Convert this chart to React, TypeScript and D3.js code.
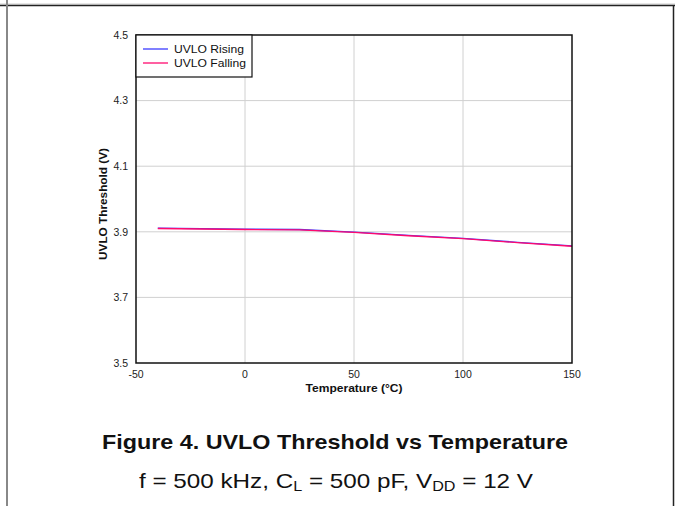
import { line as d3Line, scaleLinear } from 'd3'

const WIDTH = 675
const HEIGHT = 506
const PLOT = { left: 136, right: 572, top: 35, bottom: 363 }
const FONT = 'Liberation Sans, Arial, sans-serif'

const temps = [-40, 0, 25, 50, 75, 100, 125, 150]
const risingV = [3.911, 3.908, 3.907, 3.899, 3.889, 3.880, 3.868, 3.857]
const fallingV = [3.910, 3.907, 3.906, 3.898, 3.888, 3.879, 3.867, 3.856]

const xTicks = [-50, 0, 50, 100, 150]
const yTicks = [3.5, 3.7, 3.9, 4.1, 4.3, 4.5]

const series = [
  { name: 'UVLO Rising', color: '#3b3bff', values: risingV, width: 70 },
  { name: 'UVLO Falling', color: '#ff0a6e', values: fallingV, width: 72 },
]

export default function App() {
  const x = scaleLinear().domain([-50, 150]).range([PLOT.left, PLOT.right])
  const y = scaleLinear().domain([3.5, 4.5]).range([PLOT.bottom, PLOT.top])

  const path = (vals: number[]) =>
    d3Line<number>()
      .x((_, i) => x(temps[i]))
      .y((d) => y(d))(vals) ?? undefined

  return (
    <svg
      width={WIDTH}
      height={HEIGHT}
      viewBox={`0 0 ${WIDTH} ${HEIGHT}`}
      style={{ position: 'absolute', left: 0, top: 0, display: 'block', background: '#fff', fontFamily: FONT }}
    >
      {/* page frame */}
      <line x1={0} x2={WIDTH} y1={4} y2={4} stroke="#ccc" strokeWidth={1} />
      <line x1={0} x2={WIDTH} y1={5.5} y2={5.5} stroke="#222" strokeWidth={1.5} />
      <line x1={7} x2={7} y1={0} y2={HEIGHT} stroke="#888" strokeWidth={2} />
      <line x1={673.5} x2={673.5} y1={5} y2={HEIGHT} stroke="#222" strokeWidth={1.5} />

      {/* grid */}
      {xTicks.slice(1, -1).map((t) => (
        <line key={`gx${t}`} x1={x(t)} x2={x(t)} y1={PLOT.top} y2={PLOT.bottom} stroke="#d0d0d0" strokeWidth={1} />
      ))}
      {yTicks.slice(1, -1).map((t) => (
        <line key={`gy${t}`} x1={PLOT.left} x2={PLOT.right} y1={y(t)} y2={y(t)} stroke="#d0d0d0" strokeWidth={1} />
      ))}

      {series.map((s) => (
        <path key={s.name} d={path(s.values)} fill="none" stroke={s.color} strokeWidth={1.3} />
      ))}

      <rect
        x={PLOT.left}
        y={PLOT.top}
        width={PLOT.right - PLOT.left}
        height={PLOT.bottom - PLOT.top}
        fill="none"
        stroke="#111"
        strokeWidth={1.5}
      />

      {/* ticks */}
      {xTicks.map((t) => (
        <text key={`tx${t}`} x={x(t)} y={378} fontSize={10.5} textAnchor="middle" fill="#222">
          {t}
        </text>
      ))}
      {yTicks.map((t) => (
        <text key={`ty${t}`} x={128} y={y(t) + 3.8} fontSize={10.5} textAnchor="end" fill="#222">
          {t.toFixed(1)}
        </text>
      ))}

      <text
        x={305.5}
        y={392}
        fontSize={11}
        fontWeight="bold"
        fill="#111"
        textLength={97}
        lengthAdjust="spacingAndGlyphs"
      >
        Temperature (°C)
      </text>
      <text
        transform={`translate(107, 260) rotate(-90)`}
        fontSize={11}
        fontWeight="bold"
        fill="#111"
        textLength={112}
        lengthAdjust="spacingAndGlyphs"
      >
        UVLO Threshold (V)
      </text>

      {/* legend */}
      <rect x={PLOT.left} y={PLOT.top} width={116} height={42} fill="#fff" stroke="#111" strokeWidth={1.2} />
      {series.map((s, i) => (
        <g key={`lg${s.name}`}>
          <line x1={143} x2={168} y1={49 + i * 14} y2={49 + i * 14} stroke={s.color} strokeWidth={1.3} />
          <text
            x={174}
            y={53 + i * 14}
            fontSize={11.5}
            fill="#111"
            textLength={s.width}
            lengthAdjust="spacingAndGlyphs"
          >
            {s.name}
          </text>
        </g>
      ))}

      {/* caption */}
      <text
        x={102}
        y={449}
        fontSize={20.5}
        fontWeight="bold"
        fill="#111"
        textLength={466}
        lengthAdjust="spacingAndGlyphs"
      >
        Figure 4. UVLO Threshold vs Temperature
      </text>
      <text x={139} y={488} fontSize={21} fill="#111" textLength={394} lengthAdjust="spacingAndGlyphs">
        f = 500 kHz, C<tspan fontSize={14} dy={3}>L</tspan>
        <tspan dy={-3}> = 500 pF, V</tspan>
        <tspan fontSize={14} dy={3}>DD</tspan>
        <tspan dy={-3}> = 12 V</tspan>
      </text>
    </svg>
  )
}
